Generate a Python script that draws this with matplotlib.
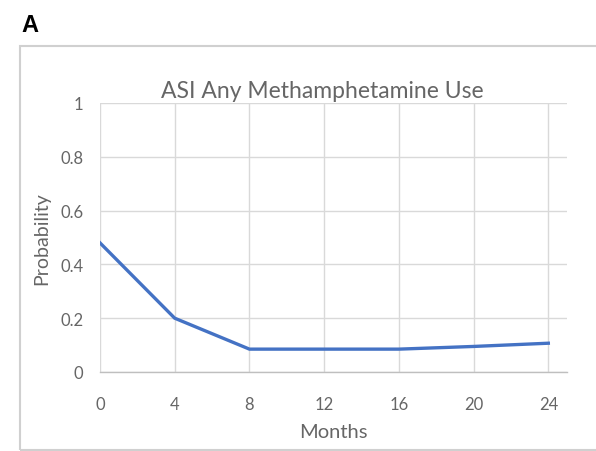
import matplotlib
matplotlib.use("Agg")
import matplotlib.pyplot as plt
from matplotlib.patches import Rectangle

months = [0, 4, 8, 12, 16, 20, 24]
probability = [0.48, 0.20, 0.085, 0.085, 0.085, 0.095, 0.107]
x_ticks = [0, 4, 8, 12, 16, 20, 24]
y_ticks = [0, 0.2, 0.4, 0.6, 0.8, 1.0]
y_tick_labels = ["0", "0.2", "0.4", "0.6", "0.8", "1"]

plt.rcParams['font.family'] = ['Lato', 'DejaVu Sans']
txt = '#666666'
grid = '#d9d9d9'

fig = plt.figure(figsize=(5.96, 4.52), dpi=100)
fig.patch.set_facecolor('white')

# outer chart border
fig.patches.append(Rectangle((20/596, 0.002), 1.0, (452-47)/452 - 0.002,
                             transform=fig.transFigure, fill=False,
                             edgecolor='#d0d0d0', linewidth=1.5))
fig.text(21/596, 1 - 26/452, "A", fontsize=17, fontweight='bold',
         color='black', ha='left', va='center', family='Liberation Sans')

ax = fig.add_axes([100/596, (452-373)/452, (567-100)/596, (373-104)/452])
ax.plot(months, probability, color='#4472c4', linewidth=2.4, solid_joinstyle='miter')
ax.set_xlim(0, 25)
ax.set_ylim(0, 1)
ax.set_xticks(x_ticks)
ax.set_yticks(y_ticks)
ax.set_yticklabels(y_tick_labels)
ax.grid(True, color=grid, linewidth=1.0)
ax.set_axisbelow(True)
for s in ['top', 'right', 'left']:
    ax.spines[s].set_visible(False)
ax.spines['bottom'].set_color('#bfbfbf')
ax.spines['bottom'].set_linewidth(1.0)
ax.tick_params(length=0, colors=txt, labelsize=12)
ax.tick_params(axis='x', pad=17)
ax.tick_params(axis='y', pad=12)
fig.text(322/596, 1 - 92/452, "ASI Any Methamphetamine Use", fontsize=16.5,
         color=txt, ha='center', va='center')
ax.set_xlabel("Months", fontsize=14.5, color=txt, va='center')
ax.xaxis.set_label_coords((333-100)/467, (373-433)/269)
ax.set_ylabel("Probability", fontsize=14, color=txt, va='center')
ax.yaxis.set_label_coords((42-100)/467, 0.5)

fig.savefig("out.png", dpi=100)
